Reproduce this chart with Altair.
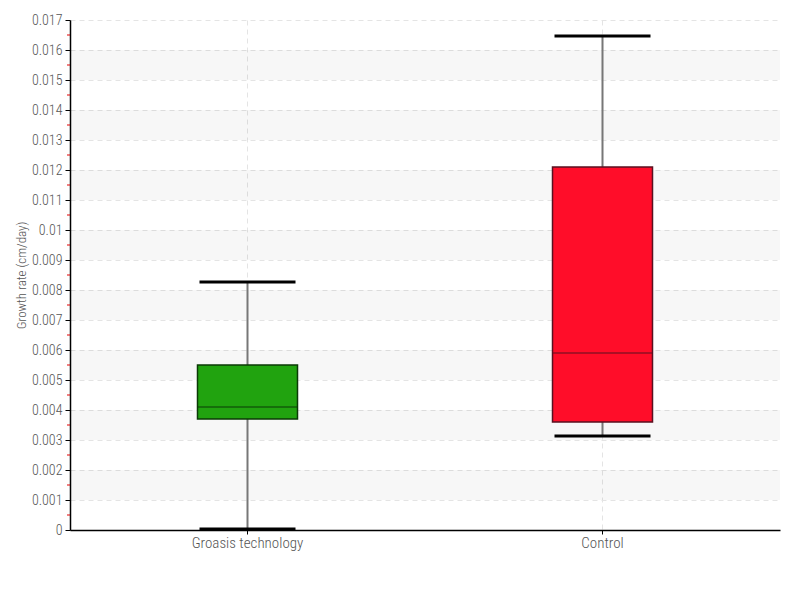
import altair as alt
import pandas as pd

categories = ["Groasis technology", "Control"]
mins = [0.00003, 0.00313]
q1s = [0.0037, 0.0036]
medians = [0.0041, 0.0059]
q3s = [0.0055, 0.0121]
maxs = [0.00827, 0.01647]
fills = ["#21a30f", "#ff0d29"]
strokes = ["#0b3a06", "#5a1020"]

band_starts = [0.001, 0.003, 0.005, 0.007, 0.009, 0.011, 0.013, 0.015]
major_ticks = [round(i * 0.001, 3) for i in range(18)]
minor_ticks = [round(0.0005 + i * 0.001, 4) for i in range(17)]

FONT = "Roboto Condensed, DejaVu Sans Condensed, Roboto, sans-serif"

df = pd.DataFrame({
    "cat": categories, "lo": mins, "q1": q1s, "med": medians,
    "q3": q3s, "hi": maxs, "fill": fills, "stroke": strokes,
})
bands = pd.DataFrame({"b0": band_starts, "b1": [b + 0.001 for b in band_starts]})
minors = pd.DataFrame({"m": minor_ticks})

W, H = 710, 510
yscale = alt.Scale(domain=[0, 0.017], nice=False, zero=True)
xscale = alt.Scale(domain=categories, paddingInner=0, paddingOuter=0)

yaxis = alt.Axis(
    values=major_ticks, title="Growth rate (cm/day)", format="~g",
    grid=True, gridColor="#e4e4e4", gridDash=[5, 4],
    domainColor="#000000", tickColor="#000000", tickSize=5,
    labelColor="#555555", labelFont=FONT, labelFontSize=14, labelFontWeight=300,
    labelPadding=3,
    titleColor="#555555", titleFont=FONT, titleFontSize=13,
    titleFontWeight=300, titlePadding=3,
)
xaxis = alt.Axis(
    title=None, grid=True, gridColor="#e4e4e4", gridDash=[5, 4],
    domainColor="#000000", tickColor="#000000", tickSize=4,
    labelColor="#555555", labelFont=FONT, labelFontSize=15, labelFontWeight=300,
    labelPadding=1, labelAngle=0,
)

band_layer = alt.Chart(bands).mark_rect(color="#000000", opacity=0.03).encode(
    x=alt.value(0), x2=alt.value(W),
    y=alt.Y("b0:Q", scale=yscale, axis=yaxis), y2="b1:Q",
)

minor_layer = alt.Chart(minors).mark_rule(color="#e00000", strokeWidth=1, clip=False).encode(
    x=alt.value(-3), x2=alt.value(0), y=alt.Y("m:Q", scale=yscale, axis=yaxis),
)

base = alt.Chart(df).encode(x=alt.X("cat:N", scale=xscale, axis=xaxis, sort=categories))

whisker = base.mark_rule(color="#777777", strokeWidth=2).encode(
    y=alt.Y("lo:Q", scale=yscale, axis=yaxis), y2="hi:Q",
)
box = base.mark_bar(size=100, strokeWidth=1.5).encode(
    y=alt.Y("q1:Q", scale=yscale, axis=yaxis), y2="q3:Q",
    fill=alt.Fill("fill:N", scale=None), stroke=alt.Stroke("stroke:N", scale=None),
)
median = base.mark_tick(size=100, thickness=1, opacity=1).encode(
    y=alt.Y("med:Q", scale=yscale, axis=yaxis),
    color=alt.Color("stroke:N", scale=None),
)
cap_hi = base.mark_tick(size=96, thickness=3, color="#000000", opacity=1).encode(
    y=alt.Y("hi:Q", scale=yscale, axis=yaxis),
)
cap_lo = base.mark_tick(size=96, thickness=3, color="#000000", opacity=1).encode(
    y=alt.Y("lo:Q", scale=yscale, axis=yaxis),
)

chart = alt.layer(band_layer, minor_layer, whisker, box, median, cap_hi, cap_lo).properties(
    width=W, height=H,
    autosize=alt.AutoSizeParams(type="none"),
    padding={"left": 62, "top": 12, "right": 12, "bottom": 60},
).configure_view(stroke=None).configure_axis(domainWidth=1.5)

chart.save("out.html", embed_options={"renderer": "svg", "actions": False})
